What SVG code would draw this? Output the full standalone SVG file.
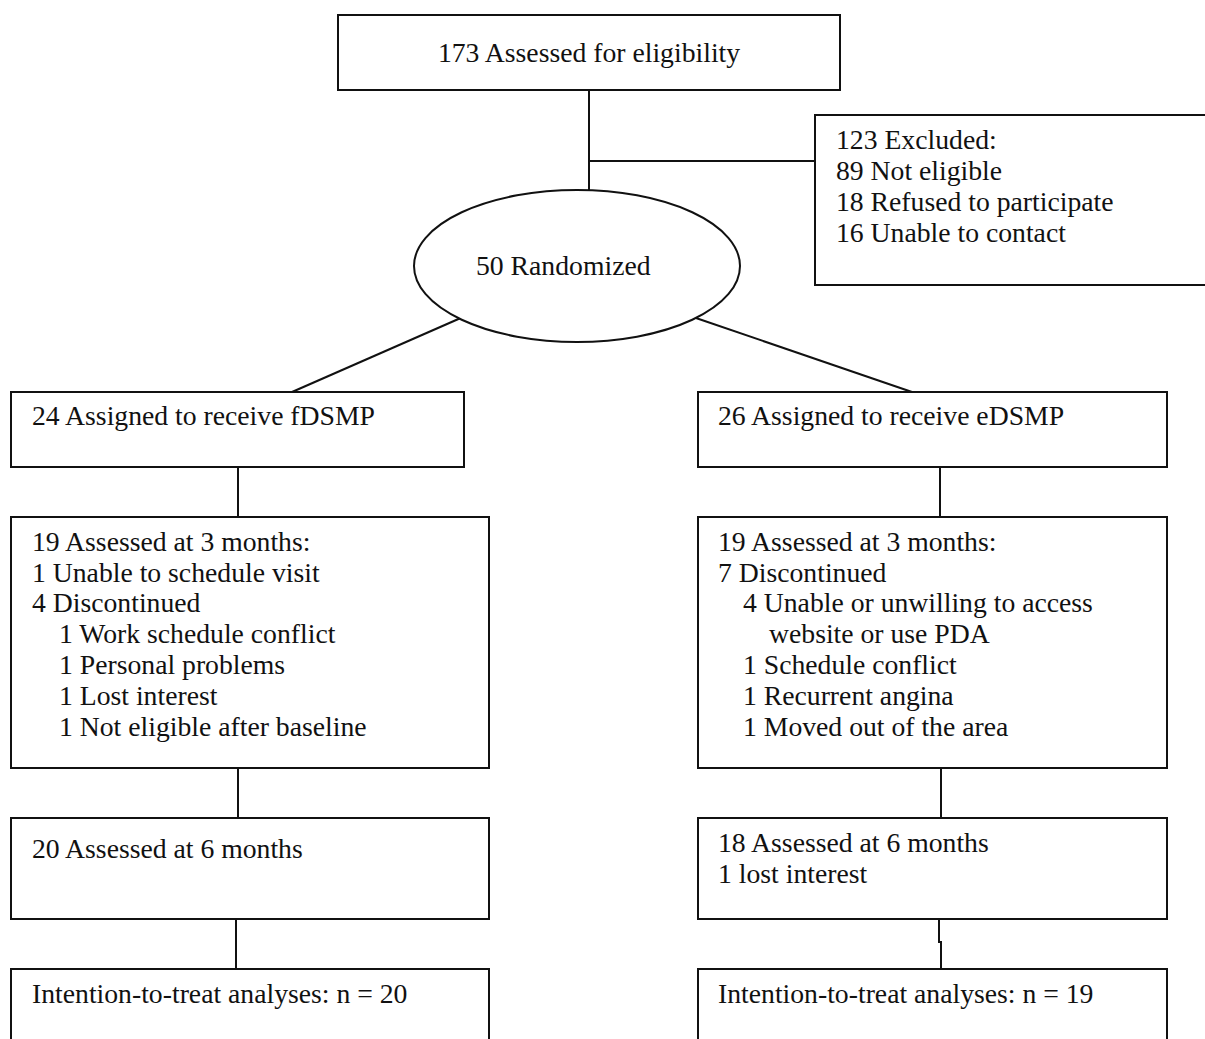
<svg xmlns="http://www.w3.org/2000/svg" width="1205" height="1039" viewBox="0 0 1205 1039">
<style>
.box{fill:#fff;stroke:#111;stroke-width:2}
.ln{fill:none;stroke:#111;stroke-width:2}
text{font-family:"Liberation Serif","Times New Roman",serif;font-size:27.7px;fill:#111}
</style>
<rect width="1205" height="1039" fill="#fff"/>
<g id="connectors">
<line class="ln" x1="589" y1="90" x2="589" y2="190"/>
<line class="ln" x1="589" y1="161" x2="815" y2="161"/>
<line class="ln" x1="463" y1="317" x2="292" y2="392"/>
<line class="ln" x1="693" y1="317" x2="912" y2="392"/>
<line class="ln" x1="238" y1="467" x2="238" y2="517"/>
<line class="ln" x1="940" y1="467" x2="940" y2="517"/>
<line class="ln" x1="238" y1="768" x2="238" y2="818"/>
<line class="ln" x1="941" y1="768" x2="941" y2="818"/>
<line class="ln" x1="236" y1="919" x2="236" y2="969"/>
<polyline class="ln" points="939,919 939,942 941,942 941,969"/>
</g>
<g id="n-assessed">
<rect class="box" x="338" y="15" width="502" height="75"/>
<text x="589" y="62" text-anchor="middle">173 Assessed for eligibility</text>
</g>
<g id="n-excluded">
<rect class="box" x="815" y="115" width="400" height="170"/>
<text x="836" y="149">123 Excluded:</text>
<text x="836" y="180">89 Not eligible</text>
<text x="836" y="211">18 Refused to participate</text>
<text x="836" y="242">16 Unable to contact</text>
</g>
<g id="n-randomized">
<ellipse class="box" cx="577" cy="266" rx="163" ry="76"/>
<text x="476" y="275">50 Randomized</text>
</g>
<g id="n-fdsmp">
<rect class="box" x="11" y="392" width="453" height="75"/>
<text x="32" y="425">24 Assigned to receive fDSMP</text>
</g>
<g id="n-edsmp">
<rect class="box" x="698" y="392" width="469" height="75"/>
<text x="718" y="425">26 Assigned to receive eDSMP</text>
</g>
<g id="n-f3">
<rect class="box" x="11" y="517" width="478" height="251"/>
<text x="32" y="551">19 Assessed at 3 months:</text>
<text x="32" y="582">1 Unable to schedule visit</text>
<text x="32" y="612">4 Discontinued</text>
<text x="59" y="643">1 Work schedule conflict</text>
<text x="59" y="674">1 Personal problems</text>
<text x="59" y="705">1 Lost interest</text>
<text x="59" y="736">1 Not eligible after baseline</text>
</g>
<g id="n-e3">
<rect class="box" x="698" y="517" width="469" height="251"/>
<text x="718" y="551">19 Assessed at 3 months:</text>
<text x="718" y="582">7 Discontinued</text>
<text x="743" y="612">4 Unable or unwilling to access</text>
<text x="769" y="643">website or use PDA</text>
<text x="743" y="674">1 Schedule conflict</text>
<text x="743" y="705">1 Recurrent angina</text>
<text x="743" y="736">1 Moved out of the area</text>
</g>
<g id="n-f6">
<rect class="box" x="11" y="818" width="478" height="101"/>
<text x="32" y="858">20 Assessed at 6 months</text>
</g>
<g id="n-e6">
<rect class="box" x="698" y="818" width="469" height="101"/>
<text x="718" y="852">18 Assessed at 6 months</text>
<text x="718" y="883">1 lost interest</text>
</g>
<g id="n-fitt">
<rect class="box" x="11" y="969" width="478" height="100"/>
<text x="32" y="1003">Intention-to-treat analyses: n = 20</text>
</g>
<g id="n-eitt">
<rect class="box" x="698" y="969" width="469" height="100"/>
<text x="718" y="1003">Intention-to-treat analyses: n = 19</text>
</g>
</svg>
